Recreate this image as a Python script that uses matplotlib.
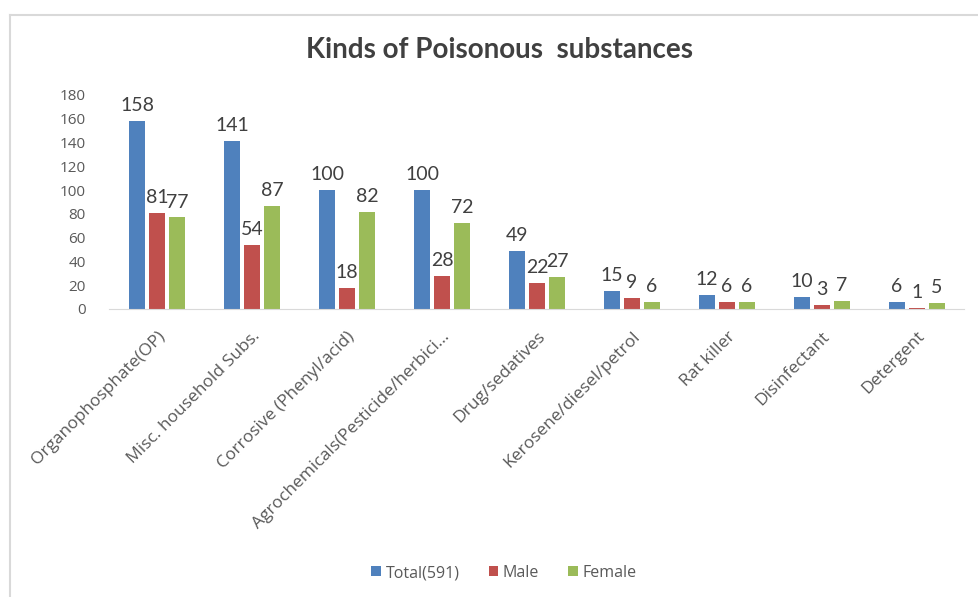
import numpy as np
import matplotlib.pyplot as plt
from matplotlib.lines import Line2D

categories = ['Organophosphate(OP)', 'Misc. household Subs.', 'Corrosive (Phenyl/acid)',
              'Agrochemicals(Pesticide/herbici...', 'Drug/sedatives', 'Kerosene/diesel/petrol',
              'Rat killer', 'Disinfectant', 'Detergent']
total = [158, 141, 100, 100, 49, 15, 12, 10, 6]
male = [81, 54, 18, 28, 22, 9, 6, 3, 1]
female = [77, 87, 82, 72, 27, 6, 6, 7, 5]
series_names = ['Total(591)', 'Male', 'Female']
yticks = [0, 20, 40, 60, 80, 100, 120, 140, 160, 180]

plt.rcParams['font.family'] = ['Lato', 'DejaVu Sans']
text_col = '#595959'
colors = ['#4f81bd', '#c0504d', '#9bbb59']

fig = plt.figure(figsize=(9.79, 5.97), dpi=100)
ax = fig.add_axes([109.5 / 979, 1 - 309 / 597, 855 / 979, 214 / 597])

x = np.arange(len(categories))
w = 0.17
step = 0.21
for i, (vals, name, c) in enumerate(zip([total, male, female], series_names, colors)):
    pos = x + (i - 1) * step
    ax.bar(pos, vals, w, color=c, label=name)
    for p, v in zip(pos, vals):
        ax.annotate(str(v), (p, v), xytext=(0, 5), textcoords='offset points',
                    ha='center', va='bottom', fontsize=14, color='#404040')

ax.set_xlim(-0.5, len(categories) - 0.5)
ax.set_ylim(0, 180)
ax.set_yticks(yticks)
ax.set_yticklabels(yticks, family='Open Sans')
ax.tick_params(axis='y', length=0, labelsize=11, labelcolor=text_col, pad=17)
ax.set_xticks(x)
ax.set_xticklabels(categories, rotation=45, ha='right', rotation_mode='anchor',
                   fontsize=12.5, color=text_col, family='Open Sans')
ax.tick_params(axis='x', length=0, pad=14)
for s in ['top', 'right', 'left']:
    ax.spines[s].set_visible(False)
ax.spines['bottom'].set_color('#d9d9d9')

fig.text(500 / 979, 1 - 50 / 597, 'Kinds of Poisonous  substances', ha='center', va='center',
         fontsize=20, fontweight='bold', color='#404040')

fig.legend(loc='center', bbox_to_anchor=(504 / 979, 1 - 573 / 597), ncol=3, frameon=False,
           prop={'family': 'Open Sans', 'size': 11.5}, handlelength=0.6, handleheight=0.6,
           handletextpad=0.3, columnspacing=1.8, labelcolor=text_col)

# chart frame (top and left edges visible in the screenshot)
fig.add_artist(Line2D([10 / 979, 10 / 979], [0, 1 - 15 / 597], color='#d9d9d9', lw=1.5))
fig.add_artist(Line2D([10 / 979, 978 / 979], [1 - 15 / 597, 1 - 15 / 597], color='#d9d9d9', lw=1.5))

fig.savefig('out.png', dpi=100)
